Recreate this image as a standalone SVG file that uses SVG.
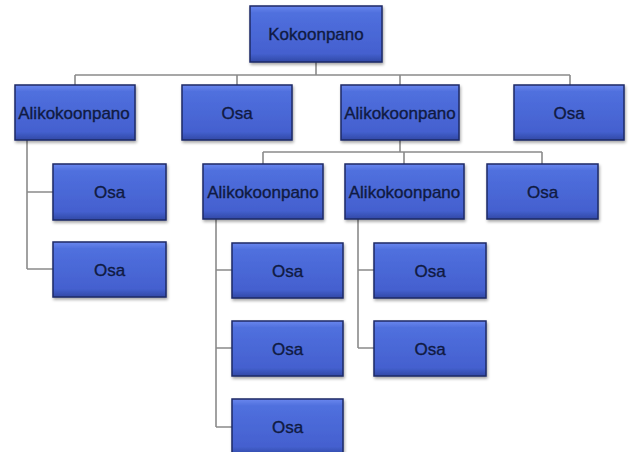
<svg xmlns="http://www.w3.org/2000/svg" width="631" height="452" viewBox="0 0 631 452">
<defs>
<linearGradient id="g" x1="0" y1="0" x2="0" y2="1">
<stop offset="0" stop-color="#6a87ee"/>
<stop offset="0.12" stop-color="#5070de"/>
<stop offset="0.85" stop-color="#4460cf"/>
<stop offset="1" stop-color="#3149a6"/>
</linearGradient>
<filter id="sh" x="-10%" y="-10%" width="130%" height="140%">
<feDropShadow dx="1" dy="2" stdDeviation="1.5" flood-color="#000" flood-opacity="0.35"/>
</filter>
</defs>
<style>
.box{fill:url(#g);stroke:#1e2a66;stroke-width:1.5;filter:url(#sh)}
.t{font-family:"Liberation Sans",Arial,sans-serif;font-size:17px;fill:#101a42;stroke:#101a42;stroke-width:0.35;text-anchor:middle}
.c{fill:none;stroke:#8a8a8a;stroke-width:1.6}
</style>
<rect width="631" height="452" fill="#ffffff"/>
<g id="connectors">
<path class="c" d="M316,62V75M75,75H570M75,75V85M237,75V85M400,75V85M570,75V85"/>
<path class="c" d="M27,140V269M27,192H53M27,269H53"/>
<path class="c" d="M400,140V152M263,152H542M263,152V164M404,152V164M542,152V164"/>
<path class="c" d="M216,219V427M216,270H232M216,348H232M216,427H232"/>
<path class="c" d="M358,219V348M358,270H374M358,348H374"/>
</g>
<g id="root"><rect class="box" x="250" y="6" width="132" height="56"/><text class="t" x="316" y="40">Kokoonpano</text></g>
<g id="a1"><rect class="box" x="15" y="85" width="120" height="55"/><text class="t" x="74" y="118.5">Alikokoonpano</text></g>
<g id="o1"><rect class="box" x="182" y="85" width="110" height="55"/><text class="t" x="237" y="118.5">Osa</text></g>
<g id="a2"><rect class="box" x="341" y="85" width="118" height="55"/><text class="t" x="400" y="118.5">Alikokoonpano</text></g>
<g id="o2"><rect class="box" x="514" y="85" width="110" height="55"/><text class="t" x="569" y="118.5">Osa</text></g>
<g id="o3"><rect class="box" x="53" y="164" width="113" height="56"/><text class="t" x="109.5" y="198">Osa</text></g>
<g id="o4"><rect class="box" x="53" y="242" width="113" height="55"/><text class="t" x="109.5" y="275.5">Osa</text></g>
<g id="a3"><rect class="box" x="203" y="164" width="120" height="55"/><text class="t" x="263" y="197.5">Alikokoonpano</text></g>
<g id="a4"><rect class="box" x="345" y="164" width="119" height="55"/><text class="t" x="404.5" y="197.5">Alikokoonpano</text></g>
<g id="o5"><rect class="box" x="487" y="164" width="111" height="55"/><text class="t" x="542.5" y="197.5">Osa</text></g>
<g id="o6"><rect class="box" x="232" y="243" width="111" height="55"/><text class="t" x="287.5" y="276.5">Osa</text></g>
<g id="o7"><rect class="box" x="232" y="321" width="111" height="55"/><text class="t" x="287.5" y="354.5">Osa</text></g>
<g id="o8"><rect class="box" x="232" y="399" width="111" height="56"/><text class="t" x="287.5" y="432.5">Osa</text></g>
<g id="o9"><rect class="box" x="374" y="243" width="112" height="55"/><text class="t" x="430" y="276.5">Osa</text></g>
<g id="o10"><rect class="box" x="374" y="321" width="112" height="55"/><text class="t" x="430" y="354.5">Osa</text></g>
</svg>
